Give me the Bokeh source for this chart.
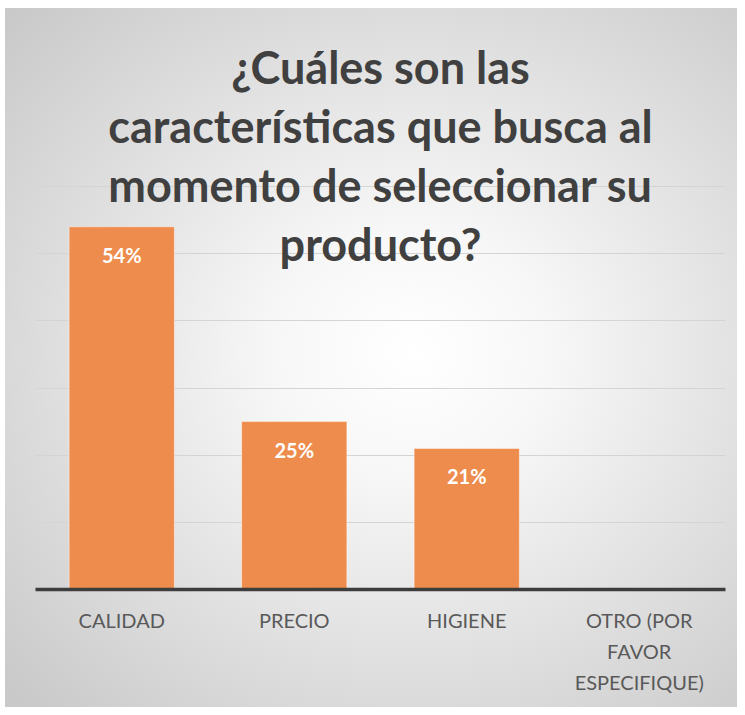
from bokeh.plotting import figure
from bokeh.models import ColumnDataSource, FactorRange, FixedTicker, LabelSet, Label
from bokeh.core.properties import value
from bokeh.embed import file_html
from bokeh.resources import INLINE

# ---- data ----
CATEGORIES = ["CALIDAD", "PRECIO", "HIGIENE", "OTRO (POR\nFAVOR\nESPECIFIQUE)"]
VALUES = [0.54, 0.25, 0.21, 0.0]
TITLE_LINES = ["¿Cuáles son las", "características que busca al",
               "momento de seleccionar su", "producto?"]
GRID_TICKS = [0.0, 0.1, 0.2, 0.3, 0.4, 0.5, 0.6]

W, H = 737, 707
FRAME_BOTTOM = 589          # pixel row of the category axis
PX_PER_UNIT = 403.0 / 0.6   # 10 % = 67 px
y_end = FRAME_BOTTOM / PX_PER_UNIT

p = figure(width=W, height=H, output_backend="svg", toolbar_location=None,
           x_range=FactorRange(factors=CATEGORIES, range_padding=0),
           y_range=(0, y_end),
           min_border_left=35, min_border_right=W - 725, min_border_top=0,
           min_border_bottom=H - FRAME_BOTTOM)
p.background_fill_alpha = 0
p.border_fill_alpha = 0
p.outline_line_color = None
p.styles = {"background":
            "linear-gradient(#ffffff, #ffffff) top left / 100% 8px no-repeat, "
            "linear-gradient(#ffffff, #ffffff) top left / 5px 100% no-repeat, "
            "radial-gradient(ellipse 75% 70% at 56% 50%, #ffffff 0%, #f7f7f7 25%, #e0e0e0 62%, #c9c9c9 100%)"}

src = ColumnDataSource(dict(x=CATEGORIES, top=VALUES))
p.vbar(x="x", top="top", width=0.61, source=src,
       fill_color="#ED8C4C", line_color="white", line_alpha=0.45, line_width=1)

lab_x = [c for c, v in zip(CATEGORIES, VALUES) if v > 0]
lab_y = [v for v in VALUES if v > 0]
lab_t = [f"{round(v * 100)}%" for v in VALUES if v > 0]
lsrc = ColumnDataSource(dict(x=lab_x, y=lab_y, t=lab_t))
p.add_layout(LabelSet(x="x", y="y", text="t", source=lsrc, y_offset=-28,
                      text_align="center", text_baseline="middle",
                      text_color="white", text_font=value("Lato"), text_font_style="bold",
                      text_font_size="20px"))

# grid
p.xgrid.grid_line_color = None
p.ygrid.grid_line_color = "#d4d4d4"
p.ygrid.grid_line_width = 1
p.yaxis.ticker = FixedTicker(ticks=GRID_TICKS)
p.yaxis.visible = False

# x axis
p.xaxis.axis_line_color = "#3d3d3d"
p.xaxis.axis_line_width = 3.5
p.xaxis.major_tick_line_color = None
p.xaxis.minor_tick_line_color = None
p.xaxis.major_label_standoff = 12
p.xaxis.major_label_text_font = "Lato"
p.xaxis.major_label_text_font_size = "20px"
p.xaxis.major_label_text_color = "#595959"
p.xaxis.major_label_text_line_height = 1.3

# title overlay
mid_page_y = [66, 125, 184, 243]
for line, my in zip(TITLE_LINES, mid_page_y):
    yv = (FRAME_BOTTOM - my) / PX_PER_UNIT
    p.add_layout(Label(x=2.0, y=yv, text=line, text_align="center",
                       text_baseline="middle", text_color="#404040",
                       text_font="Lato", text_font_style="bold",
                       text_font_size="45px"))

open("out.html", "w").write(file_html(p, INLINE))
